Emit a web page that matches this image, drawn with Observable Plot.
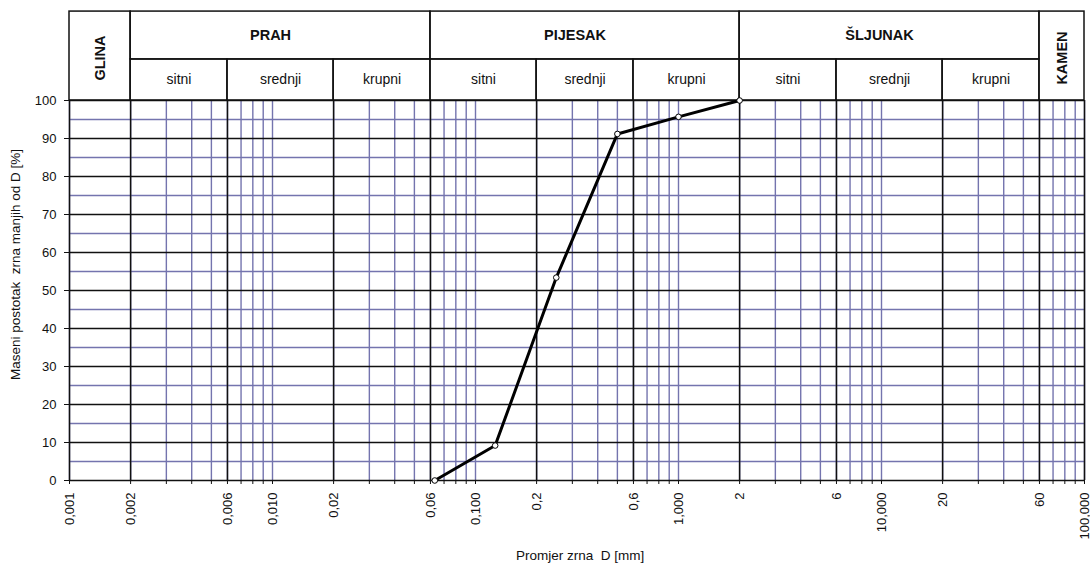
<!DOCTYPE html>
<html>
<head>
<meta charset="utf-8">
<script src="https://cdn.jsdelivr.net/npm/d3@7"></script>
<script src="https://cdn.jsdelivr.net/npm/@observablehq/plot@0.6"></script>
<style>
  html, body { margin: 0; padding: 0; background: #fff; }
  svg { display: block; }
</style>
</head>
<body>
<div id="chart"></div>
<script>
// ---- data ----
const diameters = [0.063, 0.125, 0.25, 0.5, 1, 2];          // mm
const passing   = [0, 9.2, 53.4, 91.2, 95.7, 100];          // %

const boundaries = [0.001, 0.002, 0.006, 0.02, 0.06, 0.2, 0.6, 2, 6, 20, 60, 100];

const mainNames = ["GLINA", "PRAH", "PIJESAK", "ŠLJUNAK", "KAMEN"];
const mainFrom  = [0.001, 0.002, 0.06, 2, 60];
const mainTo    = [0.002, 0.06, 2, 60, 100];
const mainFull  = [true, false, false, false, true];

const subNames = ["sitni", "srednji", "krupni", "sitni", "srednji", "krupni", "sitni", "srednji", "krupni"];
const subFrom  = [0.002, 0.006, 0.02, 0.06, 0.2, 0.6, 2, 6, 20];
const subTo    = [0.006, 0.02, 0.06, 0.2, 0.6, 2, 6, 20, 60];

const xTickValues = [0.001, 0.002, 0.006, 0.01, 0.02, 0.06, 0.1, 0.2, 0.6, 1, 2, 6, 10, 20, 60, 100];
const xTickLabels = ["0,001", "0,002", "0,006", "0,010", "0,02", "0,06", "0,100", "0,2", "0,6", "1,000", "2", "6", "10,000", "20", "60", "100,000"];

const yMajor = [0, 10, 20, 30, 40, 50, 60, 70, 80, 90, 100];
const yMinor = [5, 15, 25, 35, 45, 55, 65, 75, 85, 95];

const xTitle = "Promjer zrna  D [mm]";
const yTitle = "Maseni postotak  zrna manjih od D [%]";

// log grid positions: 1..9 × 10^k
const decades = [0.001, 0.01, 0.1, 1, 10];
const minorDiameters = [];
for (const p of decades) for (let d = 1; d <= 9; d++) minorDiameters.push(+(d * p).toPrecision(6));
minorDiameters.push(100);

// ---- layout / style ----
const BLUE = "#7474ae";
const BLACK = "#111";
const headerMid = 110.8;   // header rows expressed on the % scale (above 100)
const headerTop = 123.4;
const FONT = "'Liberation Sans', Arial, sans-serif";

const points = diameters.map((d, i) => ({d, p: passing[i]}));
const mainIdx = d3.range(mainNames.length);
const subIdx = d3.range(subNames.length);
const xIdx = d3.range(xTickValues.length);
const gmean = (a, b) => Math.sqrt(a * b);

const chart = Plot.plot({
  width: 1090,
  height: 567,
  marginLeft: 69,
  marginRight: 6,
  marginTop: 100,
  marginBottom: 87,
  style: {fontFamily: FONT, fontSize: "12px", color: BLACK, background: "#fff", overflow: "visible"},
  x: {type: "log", domain: [0.001, 100]},
  y: {domain: [0, 100]},
  marks: [
    // minor grid (blue)
    Plot.ruleY(yMinor, {x1: 0.001, x2: 100, stroke: BLUE, strokeWidth: 1.4}),
    Plot.ruleX(minorDiameters, {y1: 0, y2: 100, stroke: BLUE, strokeWidth: 1.4}),
    // major grid (black)
    Plot.ruleY(yMajor, {x1: 0.001, x2: 100, stroke: BLACK, strokeWidth: 1.5}),
    Plot.ruleX(boundaries, {y1: 0, y2: 100, stroke: BLACK, strokeWidth: 1.5}),
    // header table
    Plot.rect(mainIdx, {
      x1: i => mainFrom[i], x2: i => mainTo[i],
      y1: i => mainFull[i] ? 100 : headerMid, y2: headerTop,
      fill: "none", stroke: BLACK, strokeWidth: 1.5
    }),
    Plot.rect(subIdx, {
      x1: i => subFrom[i], x2: i => subTo[i],
      y1: 100, y2: headerMid,
      fill: "none", stroke: BLACK, strokeWidth: 1.5
    }),
    Plot.text(mainIdx.filter(i => !mainFull[i]), {
      x: i => gmean(mainFrom[i], mainTo[i]),
      y: (headerMid + headerTop) / 2,
      text: i => mainNames[i],
      fontWeight: "bold", fontSize: 14.5, dx: -10, fill: BLACK
    }),
    Plot.text(mainIdx.filter(i => mainFull[i]), {
      x: i => gmean(mainFrom[i], mainTo[i]),
      y: (100 + headerTop) / 2,
      text: i => mainNames[i],
      rotate: -90, fontWeight: "bold", fontSize: 14.5, dy: 2, fill: BLACK
    }),
    Plot.text(subIdx, {
      x: i => gmean(subFrom[i], subTo[i]),
      y: (100 + headerMid) / 2,
      text: i => subNames[i],
      fontSize: 14, fill: BLACK
    }),
    // y axis
    Plot.axisY({ticks: yMajor, tickSize: 5, tickPadding: 8, fontSize: 13, label: null, stroke: BLACK}),
    Plot.text([yTitle], {
      text: d => d, frameAnchor: "left", textAnchor: "middle", lineAnchor: "middle",
      rotate: -90, dx: -54, dy: -26, fontSize: 13.5, fill: BLACK
    }),
    // x axis: short ticks at every grid line, rotated labels
    Plot.axisX({ticks: minorDiameters, tickSize: 4, tickFormat: () => "", label: null, stroke: BLACK}),
    Plot.text(xIdx, {
      x: i => xTickValues[i], frameAnchor: "bottom",
      text: i => xTickLabels[i],
      rotate: -90, textAnchor: "end", lineAnchor: "middle", dy: 12,
      fontSize: 13, fill: BLACK
    }),
    Plot.text([xTitle], {
      text: d => d, frameAnchor: "bottom", textAnchor: "middle", lineAnchor: "middle",
      dx: 3, dy: 75, fontSize: 13.5, fill: BLACK
    }),
    // grading curve
    Plot.line(points, {x: "d", y: "p", stroke: "#000", strokeWidth: 3}),
    Plot.dot(points, {x: "d", y: "p", r: 2.8, fill: "#fff", stroke: "#000", strokeWidth: 1})
  ]
});

document.getElementById("chart").appendChild(chart);
</script>
</body>
</html>
